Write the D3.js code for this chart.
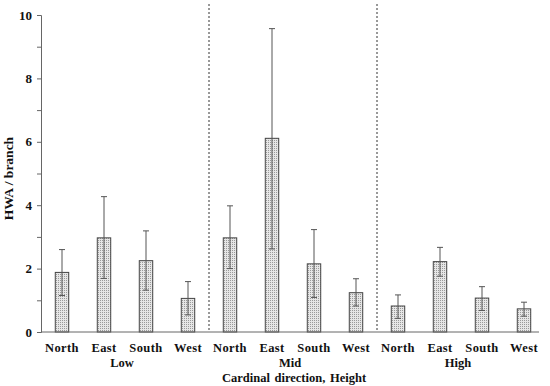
<!DOCTYPE html>
<html>
<head>
<meta charset="utf-8">
<script src="https://cdn.jsdelivr.net/npm/d3@7/dist/d3.min.js"></script>
<style>
  body { margin: 0; background: #fff; }
  text { font-family: "Liberation Serif", "Times New Roman", serif; font-weight: bold; fill: #111; }
</style>
</head>
<body>
<svg id="chart" width="550" height="386"></svg>
<script>
// data
const heights    = ['Low', 'Mid', 'High'];
const directions = ['North', 'East', 'South', 'West'];
const means = [1.88, 2.97, 2.25, 1.06,  2.97, 6.11, 2.15, 1.24,  0.82, 2.22, 1.07, 0.73];
const errLo = [1.15, 1.69, 1.32, 0.54,  2.00, 2.62, 1.09, 0.82,  0.43, 1.76, 0.68, 0.50];
const errHi = [2.60, 4.27, 3.19, 1.59,  3.98, 9.57, 3.23, 1.68,  1.17, 2.67, 1.43, 0.94];
const yTicks = [0, 2, 4, 6, 8, 10];

const rows = [];
heights.forEach((h, i) => directions.forEach((d, j) => {
  const k = i * directions.length + j;
  rows.push({ key: h + '-' + d, height: h, dir: d, v: means[k], lo: errLo[k], hi: errHi[k] });
}));

const svg = d3.select('#chart');
const M = { left: 41, right: 545, top: 15, bottom: 332 };

const x = d3.scaleBand().domain(rows.map(r => r.key)).range([M.left, M.right]).paddingInner(0.68).paddingOuter(0.34);
const y = d3.scaleLinear().domain([0, 10]).range([M.bottom, M.top]);

// stippled fill
const defs = svg.append('defs');
const pat = defs.append('pattern').attr('id', 'dots')
  .attr('width', 2).attr('height', 2).attr('patternUnits', 'userSpaceOnUse');
pat.append('rect').attr('width', 2).attr('height', 2).attr('fill', '#e6e6e6');
pat.append('rect').attr('width', 1).attr('height', 1).attr('fill', '#9a9a9a');

// group dividers
const step = x.step();
[1, 2].forEach(i => {
  const xi = x(rows[i * 4].key) - (step - x.bandwidth()) / 2;
  svg.append('line')
    .attr('x1', xi).attr('x2', xi).attr('y1', 4).attr('y2', M.bottom)
    .attr('stroke', '#333').attr('stroke-width', 1).attr('stroke-dasharray', '2,2');
});

// bars
svg.selectAll('.bar').data(rows).join('rect')
  .attr('class', 'bar')
  .attr('x', d => x(d.key)).attr('width', x.bandwidth())
  .attr('y', d => y(d.v)).attr('height', d => y(0) - y(d.v))
  .attr('fill', 'url(#dots)').attr('stroke', '#444').attr('stroke-width', 1);

// error bars
const eb = svg.selectAll('.err').data(rows).join('g').attr('class', 'err')
  .attr('stroke', '#555').attr('stroke-width', 1);
const cx = d => x(d.key) + x.bandwidth() / 2;
eb.append('line').attr('x1', cx).attr('x2', cx).attr('y1', d => y(d.lo)).attr('y2', d => y(d.hi));
eb.append('line').attr('x1', d => cx(d) - 3).attr('x2', d => cx(d) + 3).attr('y1', d => y(d.hi)).attr('y2', d => y(d.hi));
eb.append('line').attr('x1', d => cx(d) - 3).attr('x2', d => cx(d) + 3).attr('y1', d => y(d.lo)).attr('y2', d => y(d.lo));

// y axis
const yAxis = svg.append('g').attr('transform', `translate(${M.left},0)`)
  .call(d3.axisLeft(y).tickValues(d3.range(0, 11)).tickSize(4).tickPadding(5)
    .tickFormat(d => yTicks.includes(d) ? d : ''));
yAxis.select('.domain').attr('stroke', '#666');
yAxis.selectAll('.tick line').attr('stroke', '#666');
yAxis.selectAll('.tick text').style('font-size', '13px');

// x axis line
svg.append('line').attr('x1', M.left).attr('x2', 539).attr('y1', M.bottom).attr('y2', M.bottom)
  .attr('stroke', '#666').attr('stroke-width', 1);

// category labels
svg.selectAll('.dir').data(rows).join('text').attr('class', 'dir')
  .attr('x', cx).attr('y', 352).attr('text-anchor', 'middle')
  .style('font-size', '12.5px').style('letter-spacing', '0.4px')
  .text(d => d.dir);

svg.selectAll('.grp').data(heights).join('text').attr('class', 'grp')
  .attr('x', (h, i) => (cx(rows[i * 4 + 1]) + cx(rows[i * 4 + 2])) / 2 - 3)
  .attr('y', 367).attr('text-anchor', 'middle').style('font-size', '12.5px')
  .text(d => d);

svg.append('text').attr('x', (M.left + M.right) / 2 + 1).attr('y', 382)
  .attr('text-anchor', 'middle').style('font-size', '12.5px').style('word-spacing', '1.5px')
  .text('Cardinal direction, Height');

svg.append('text')
  .attr('transform', `translate(13,${(M.top + M.bottom) / 2 + 5}) rotate(-90)`)
  .attr('text-anchor', 'middle').style('font-size', '13.5px')
  .text('HWA / branch');
</script>
</body>
</html>
